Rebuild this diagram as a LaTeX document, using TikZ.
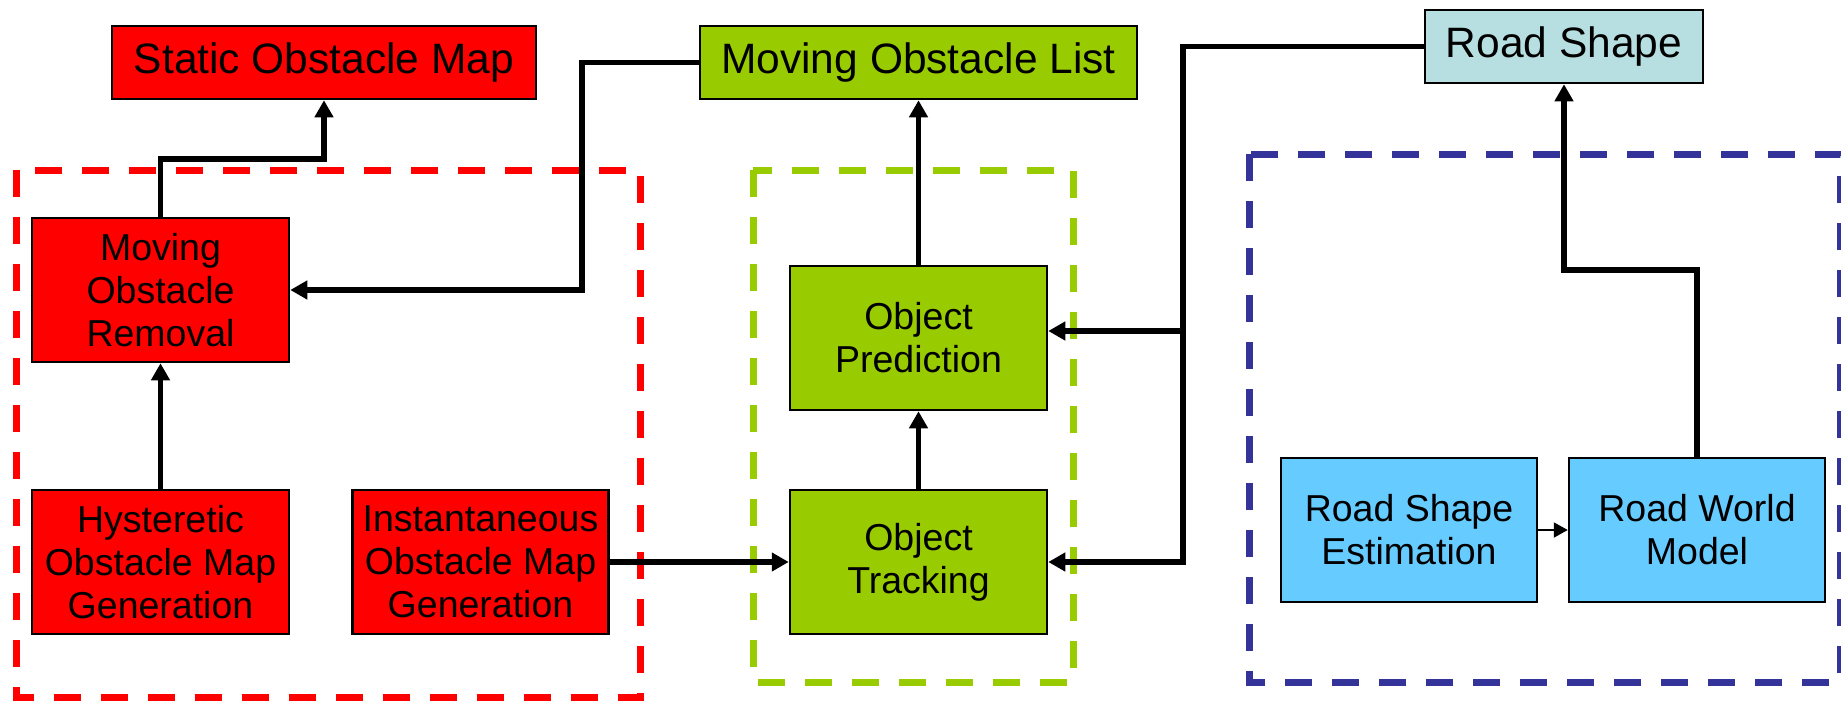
\documentclass[tikz,border=0pt]{standalone}
\usepackage{fontspec}
\setmainfont{Liberation Sans}
\usetikzlibrary{arrows.meta,calc}
\definecolor{boxred}{HTML}{FF0000}
\definecolor{boxgreen}{HTML}{99CC00}
\definecolor{boxcyan}{HTML}{B7DFE1}
\definecolor{boxblue}{HTML}{66CCFF}
\definecolor{groupblue}{HTML}{333399}
\begin{document}
\begin{tikzpicture}[x=1pt,y=-1pt,
  block/.style={draw=black, line width=2.5pt, align=center, inner sep=0pt,
    minimum width=257pt, minimum height=144pt,
    font=\fontsize{37.5}{43}\selectfont},
  title/.style={draw=black, line width=2.5pt, inner sep=0pt,
    minimum height=73pt, font=\fontsize{42.5}{48}\selectfont},
  group/.style={line width=7pt, dash pattern=on 27pt off 20pt},
  link/.style={line width=5.5pt, -{Triangle[length=17pt,width=18pt]}},
  thinlink/.style={line width=2pt, -{Triangle[length=14pt,width=15pt]}}
]
\useasboundingbox (0,0) rectangle (1841,701);

% processing groups
\draw[group, boxred] (16.5,170) rectangle (640,697);
\draw[group, boxgreen] (753,170) rectangle (1073,682);
\draw[group, groupblue] (1249,154) rectangle (1840,682);

% output boxes
\node[title, fill=boxred, minimum width=424pt] (som) at (324,62.5) {Static Obstacle Map};
\node[title, fill=boxgreen, minimum width=437pt] (mol) at (918.5,62.5) {Moving Obstacle List};
\node[title, fill=boxcyan, minimum width=278pt] (rs) at (1564,46.5) {Road Shape};

% static obstacle chain
\node[block, fill=boxred] (mor) at (160.5,290) {Moving\\Obstacle\\Removal};
\node[block, fill=boxred] (hom) at (160.5,562) {Hysteretic\\Obstacle Map\\Generation};
\node[block, fill=boxred, minimum width=256pt] (iom) at (480.5,562) {Instantaneous\\Obstacle Map\\Generation};

% moving obstacle chain
\node[block, fill=boxgreen] (op) at (918.5,338) {Object\\Prediction};
\node[block, fill=boxgreen] (ot) at (918.5,562) {Object\\Tracking};

% road chain
\node[block, fill=boxblue, minimum width=256pt] (rse) at (1409,530) {Road Shape\\Estimation};
\node[block, fill=boxblue, minimum width=256pt] (rwm) at (1697,530) {Road World\\Model};

% routing points
\coordinate (morup) at (160.5,159);
\coordinate (molturn) at (582,62.5);
\coordinate (busT) at (1183,46.5);
\coordinate (busB) at (1183,562);
\coordinate (busM) at (1183,331);
\coordinate (rwmup) at (1697,270);

% connectors
\draw[link] (mor.north) -- (morup) -| (som.south);
\draw[link] (mol.west) -- (molturn) |- (mor.east);
\draw[link] (hom.north) -- (mor.south);
\draw[link] (iom.east) -- (ot.west);
\draw[link] (ot.north) -- (op.south);
\draw[link] (op.north) -- (mol.south);
\draw[link] (rs.west) -- (busT) -- (busB) -- (ot.east);
\draw[link] (busM) -- (busM -| op.east);
\draw[link] (rwm.north) -- (rwmup) -| (rs.south);
\draw[thinlink] (rse.east) -- (rwm.west);
\end{tikzpicture}
\end{document}
